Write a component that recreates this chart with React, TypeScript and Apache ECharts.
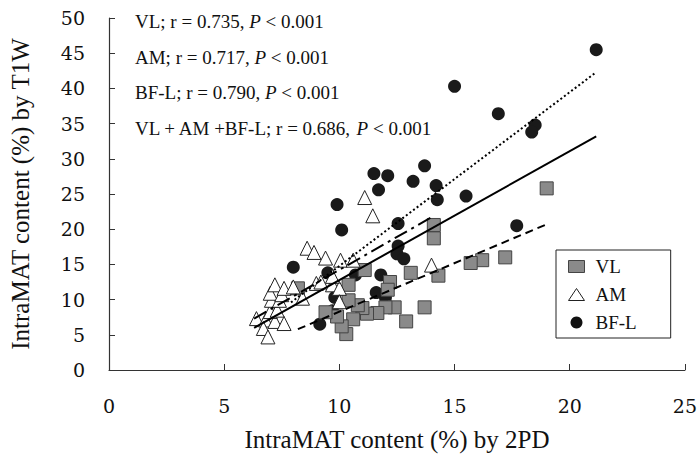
import React, { useEffect, useRef } from "react";
import * as echarts from "echarts";

// VL (squares)
const vlData: [number, number][] = [
  [19.0, 25.8], [17.2, 16.0], [16.2, 15.6], [15.7, 15.2], [14.1, 20.6], [14.1, 18.7],
  [14.3, 13.4], [13.1, 13.8], [13.7, 8.9], [12.9, 6.9], [12.4, 8.9], [12.0, 8.9],
  [12.2, 12.5], [12.1, 11.4], [11.65, 8.1], [11.2, 8.0], [11.1, 14.2], [11.0, 8.8],
  [10.8, 9.2], [10.6, 7.2], [10.4, 12.1], [10.4, 9.9], [10.3, 5.1], [10.1, 6.2],
  [9.9, 7.6], [9.4, 8.2], [8.2, 11.6],
];
// AM (triangles)
const amData: [number, number][] = [
  [6.4, 7.3], [6.8, 7.1], [6.7, 5.9], [6.9, 4.7], [7.2, 6.9], [7.6, 6.6], [7.0, 8.3],
  [7.3, 8.5], [7.05, 9.9], [7.4, 9.9], [7.0, 10.9], [7.5, 10.7], [7.2, 12.1], [7.6, 11.6],
  [8.0, 11.8], [8.4, 10.2], [9.0, 12.3], [9.2, 12.5], [9.7, 12.1], [10.0, 11.6],
  [10.0, 9.7], [8.6, 17.3], [8.9, 16.7], [9.4, 15.9], [10.05, 15.6], [10.6, 15.6],
  [11.1, 24.5], [11.45, 21.9], [14.0, 14.9], [9.7, 13.3],
];
// BF-L (circles)
const bflData: [number, number][] = [
  [21.15, 45.5], [15.0, 40.3], [16.9, 36.4], [18.5, 34.8], [18.35, 33.8], [13.7, 29.0],
  [11.5, 27.9], [12.1, 27.6], [13.2, 26.8], [14.2, 26.2], [14.25, 24.2], [15.5, 24.7],
  [11.7, 25.6], [9.9, 23.5], [10.1, 19.9], [12.55, 20.8], [17.7, 20.5], [12.55, 17.6],
  [12.5, 16.5], [12.8, 15.8], [8.0, 14.6], [9.5, 13.8], [10.7, 13.5], [11.8, 13.5],
  [11.6, 11.0], [12.0, 10.3], [9.8, 10.3], [9.7, 8.4], [9.15, 6.5],
];
// Regression lines (endpoints)
const vlFit: [number, number][] = [[8.2, 5.8], [19.0, 20.7]];
const amFit: [number, number][] = [[6.3, 7.3], [14.0, 21.7]];
const bflFit: [number, number][] = [[7.9, 9.6], [21.15, 42.3]];
const allFit: [number, number][] = [[6.3, 6.0], [21.15, 33.2]];

const xTicks = { min: 0, max: 25, interval: 5 };
const yTicks = { min: 0, max: 50, interval: 5 };

const statLines = [
  ["VL; r = 0.735, ", "P", " < 0.001"],
  ["AM; r = 0.717, ", "P", " < 0.001"],
  ["BF-L; r = 0.790, ", "P", " < 0.001"],
  ["VL + AM +BF-L; r = 0.686, ", "P", " < 0.001"],
];

const SERIF = "Liberation Serif";
const TICKFONT = "DejaVu Serif";

export default function App() {
  const ref = useRef<HTMLDivElement>(null);
  useEffect(() => {
    if (!ref.current) return;
    const chart = echarts.init(ref.current, undefined, { renderer: "svg" });
    const axisCommon = {
      axisLine: { show: true, lineStyle: { color: "#333", width: 1.2 } },
      axisTick: { show: true, inside: true, length: 6, lineStyle: { color: "#333" } },
      splitLine: { show: false },
      axisLabel: { color: "#111", fontFamily: TICKFONT, fontSize: 19 },
      nameTextStyle: { color: "#111", fontFamily: SERIF, fontSize: 25 },
      nameLocation: "middle" as const,
    };
    const lineSeries = (data: [number, number][], type: any, z = 5) => ({
      type: "line",
      data,
      showSymbol: false,
      symbol: "none",
      lineStyle: { color: "#000", width: 2, type },
      z,
      silent: true,
    });
    chart.setOption({
      animation: false,
      backgroundColor: "#fff",
      grid: { left: 107, right: 13, top: 18, bottom: 89 },
      xAxis: {
        type: "value",
        ...xTicks,
        name: "IntraMAT content (%) by 2PD",
        nameGap: 57,
        ...axisCommon,
        axisLabel: { ...axisCommon.axisLabel, margin: 26 },
      },
      yAxis: {
        type: "value",
        ...yTicks,
        name: "IntraMAT content (%) by T1W",
        nameGap: 76,
        ...axisCommon,
        axisLabel: { ...axisCommon.axisLabel, margin: 24 },
      },
      legend: {
        orient: "vertical",
        left: 556,
        top: 250,
        width: 112,
        padding: [7, 34, 6, 12],
        itemGap: 9,
        itemWidth: 16,
        itemHeight: 12,
        borderColor: "#222",
        borderWidth: 1,
        backgroundColor: "#fff",
        textStyle: { fontFamily: SERIF, fontSize: 19, color: "#111", padding: [0, 0, 0, 6] },
        data: [
          { name: "VL", icon: "rect", itemStyle: { color: "#8a8a8a", borderColor: "#444", borderWidth: 1 } },
          { name: "AM", icon: "triangle", itemStyle: { color: "#fff", borderColor: "#222", borderWidth: 1 } },
          { name: "BF-L", icon: "circle", itemStyle: { color: "#111" } },
        ],
      },
      graphic: statLines.map((l, i) => ({
        type: "text",
        left: 135,
        top: 12 + i * 35.5,
        style: {
          text: `{a|${l[0]}}{i|${l[1]}}{a|${l[2]}}`,
          rich: {
            a: { fontFamily: SERIF, fontSize: 19, fill: "#111" },
            i: { fontFamily: SERIF, fontSize: 19, fontStyle: "italic", fill: "#111" },
          },
        },
      })),
      series: [
        {
          name: "BF-L",
          type: "scatter",
          data: bflData,
          symbol: "circle",
          symbolSize: 13,
          itemStyle: { color: "#1a1a1a", opacity: 1 },
          z: 2,
        },
        {
          name: "VL",
          type: "scatter",
          data: vlData,
          symbol: "rect",
          symbolSize: 13,
          itemStyle: { color: "#8a8a8a", borderColor: "#444", borderWidth: 1, opacity: 1 },
          z: 3,
        },
        {
          name: "AM",
          type: "scatter",
          data: amData,
          symbol: "triangle",
          symbolSize: 14,
          itemStyle: { color: "#fff", borderColor: "#222", borderWidth: 1, opacity: 1 },
          z: 4,
        },
        lineSeries(vlFit, [8, 5]),
        lineSeries(amFit, [14, 5, 3, 5]),
        lineSeries(bflFit, [2, 2.5]),
        lineSeries(allFit, "solid"),
      ],
    });
    return () => chart.dispose();
  }, []);
  return (
    <div
      ref={ref}
      style={{ position: "absolute", left: 0, top: 0, width: 700, height: 459 }}
    />
  );
}
